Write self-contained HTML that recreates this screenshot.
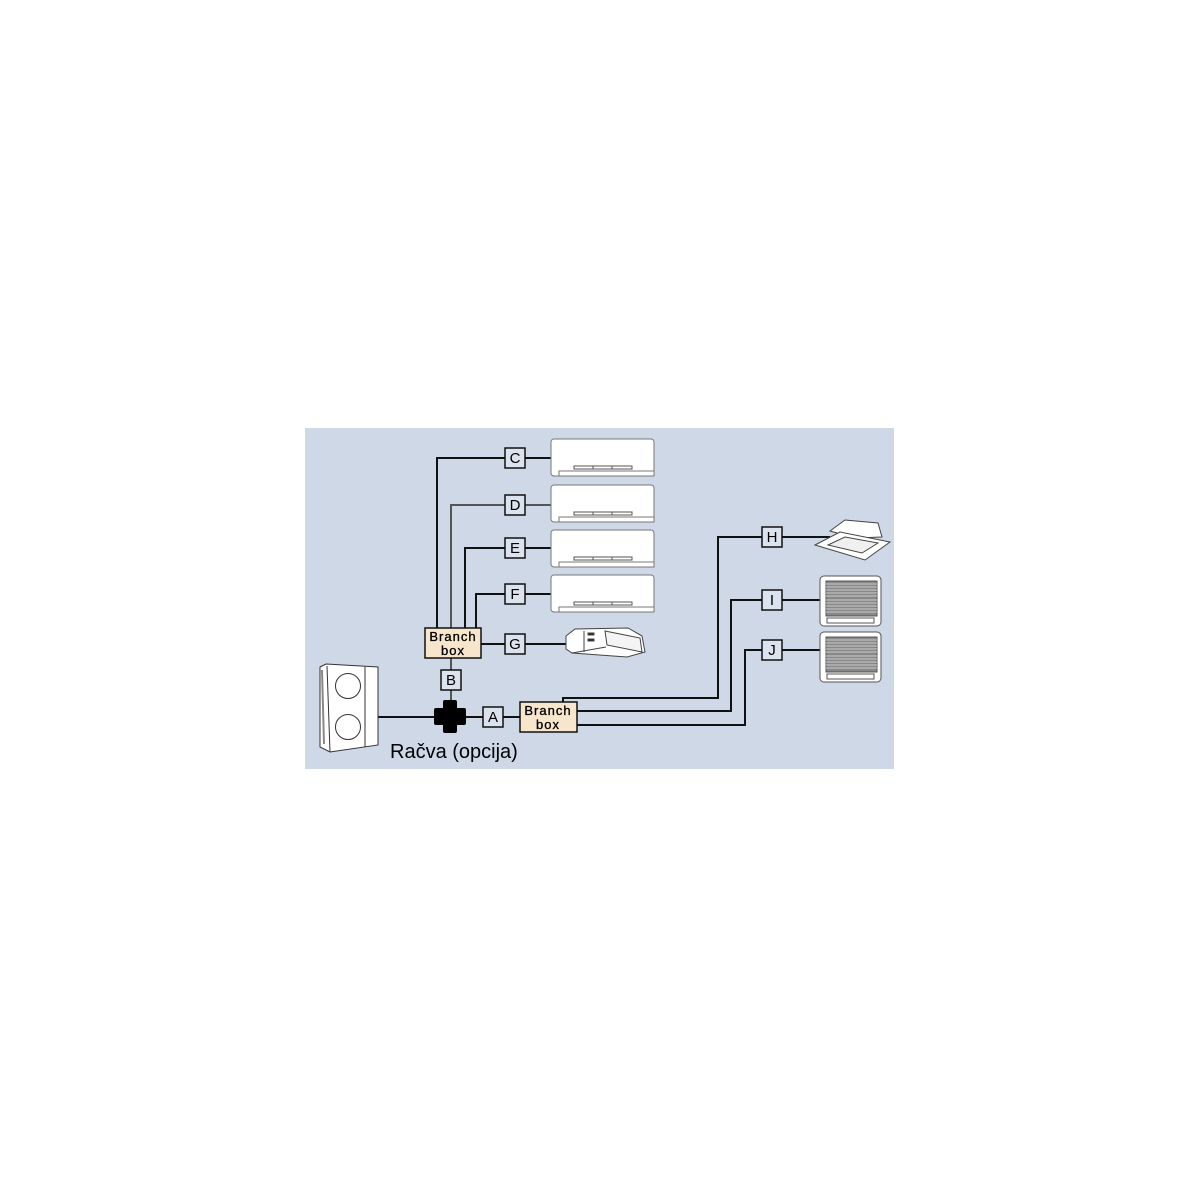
<!DOCTYPE html>
<html><head><meta charset="utf-8"><style>
html,body{margin:0;padding:0;background:#fff;width:1200px;height:1200px;overflow:hidden}
svg{display:block}
text{font-family:"Liberation Sans",sans-serif}
</style></head><body>
<svg width="1200" height="1200" viewBox="0 0 1200 1200" xmlns="http://www.w3.org/2000/svg">
<rect x="305" y="428" width="589" height="341" fill="#cfd8e7"/>
<g fill="none" stroke-linejoin="miter">
<polyline points="437,628 437,458 551,458" stroke="#111" stroke-width="2"/>
<polyline points="451,628 451,505 551,505" stroke="#555" stroke-width="2"/>
<polyline points="465,628 465,548 551,548" stroke="#111" stroke-width="2"/>
<polyline points="476,628 476,594 551,594" stroke="#111" stroke-width="2"/>
<line x1="481" y1="644" x2="566" y2="644" stroke="#111" stroke-width="2"/>
<line x1="451" y1="658" x2="451" y2="717" stroke="#555" stroke-width="2"/>
<line x1="378" y1="717" x2="520" y2="717" stroke="#111" stroke-width="2"/>
<polyline points="563,702 563,698 718,698 718,537 830,537" stroke="#111" stroke-width="2"/>
<polyline points="577,711 731,711 731,600 820,600" stroke="#111" stroke-width="2"/>
<polyline points="577,725 745,725 745,650 820,650" stroke="#111" stroke-width="2"/>
</g>
<g id="wall">
<rect x="551" y="439" width="103" height="37" rx="3" fill="#fff" stroke="#777" stroke-width="1"/>
<rect x="559" y="471" width="95" height="5" fill="#fff" stroke="#777" stroke-width="1"/>
<rect x="574" y="466" width="58" height="3" fill="#fff" stroke="#555" stroke-width="1"/>
<line x1="593" y1="466" x2="593" y2="469" stroke="#555"/><line x1="612" y1="466" x2="612" y2="469" stroke="#555"/>
</g>
<use href="#wall" y="46"/>
<use href="#wall" y="91"/>
<use href="#wall" y="136"/>
<g stroke="#444" stroke-width="1" fill="#fff">
<polygon points="566,636 575,629 628,628 642,636 645,652 627,657 572,653 566,649"/>
<polygon points="605,631 640,638 642,652 607,645" fill="#f4f4f4"/>
<line x1="572" y1="653" x2="606" y2="647"/><line x1="584" y1="631" x2="584" y2="652"/>
<rect x="588" y="633" width="6" height="2" fill="#222"/><rect x="588" y="639" width="6" height="2" fill="#222"/>
</g>
<g stroke="#444" stroke-width="1" fill="#fff">
<polygon points="830,531 845,520 878,523 882,537 855,538"/>
<polygon points="815,545 840,532 890,542 865,560"/>
<polygon points="828,545 845,537 878,543 862,553" fill="#f0f0f0"/>
</g>
<g id="floor" stroke="#555" stroke-width="1">
<rect x="820" y="576" width="61" height="50" rx="4" fill="#fff"/>
<rect x="826" y="581" width="51" height="35" fill="#888"/>
<g stroke="#ccc"><line x1="826" y1="584" x2="877" y2="584"/><line x1="826" y1="587" x2="877" y2="587"/><line x1="826" y1="590" x2="877" y2="590"/><line x1="826" y1="593" x2="877" y2="593"/><line x1="826" y1="596" x2="877" y2="596"/><line x1="826" y1="600" x2="877" y2="600"/><line x1="826" y1="603" x2="877" y2="603"/><line x1="826" y1="606" x2="877" y2="606"/><line x1="826" y1="609" x2="877" y2="609"/><line x1="826" y1="612" x2="877" y2="612"/></g>
<rect x="827" y="618" width="47" height="5" fill="#fff"/>
</g>
<use href="#floor" y="56"/>
<g stroke="#333" stroke-width="1" fill="#fff">
<polygon points="320,667 326,664 378,667 378,745 330,752 320,747"/>
<line x1="327" y1="666" x2="330" y2="752"/>
<line x1="365" y1="667" x2="365" y2="747"/>
<line x1="322" y1="670" x2="324" y2="744" stroke="#888" stroke-width="2"/>
<circle cx="348" cy="686" r="12.5"/>
<circle cx="348" cy="727" r="12.5"/>
</g>
<path d="M445,700 h10 q2,0 2,2 v6 h7 q2,0 2,2 v13 q0,2 -2,2 h-7 v6 q0,2 -2,2 h-10 q-2,0 -2,-2 v-6 h-7 q-2,0 -2,-2 v-13 q0,-2 2,-2 h7 v-6 q0,-2 2,-2 z" fill="#000"/>
<rect x="425" y="628" width="56" height="30" fill="#f8e6cc" stroke="#111" stroke-width="1.5"/>
<text x="453" y="641" font-size="13" text-anchor="middle" letter-spacing="1" stroke="#000" stroke-width="0.3">Branch</text>
<text x="453" y="655" font-size="13" text-anchor="middle" letter-spacing="1" stroke="#000" stroke-width="0.3">box</text>
<rect x="520" y="702" width="57" height="30" fill="#f8e6cc" stroke="#111" stroke-width="1.5"/>
<text x="548" y="715" font-size="13" text-anchor="middle" letter-spacing="1" stroke="#000" stroke-width="0.3">Branch</text>
<text x="548" y="729" font-size="13" text-anchor="middle" letter-spacing="1" stroke="#000" stroke-width="0.3">box</text>
<g font-size="15" text-anchor="middle">
<g fill="#dbe3ef" stroke="#111" stroke-width="1.5">
<rect x="505" y="448" width="20" height="20"/>
<rect x="505" y="495" width="20" height="20"/>
<rect x="505" y="538" width="20" height="20"/>
<rect x="505" y="584" width="20" height="20"/>
<rect x="505" y="634" width="20" height="20"/>
<rect x="441" y="670" width="20" height="20"/>
<rect x="483" y="707" width="20" height="20"/>
<rect x="762" y="527" width="20" height="20"/>
<rect x="762" y="590" width="20" height="20"/>
<rect x="762" y="640" width="20" height="20"/>
</g>
<text x="515" y="463">C</text><text x="515" y="510">D</text><text x="515" y="553">E</text>
<text x="515" y="599">F</text><text x="515" y="649">G</text><text x="451" y="685">B</text>
<text x="493" y="722">A</text><text x="772" y="542">H</text><text x="772" y="605">I</text><text x="772" y="655">J</text>
</g>
<text x="390" y="758" font-size="20">Račva (opcija)</text>
</svg>
</body></html>
